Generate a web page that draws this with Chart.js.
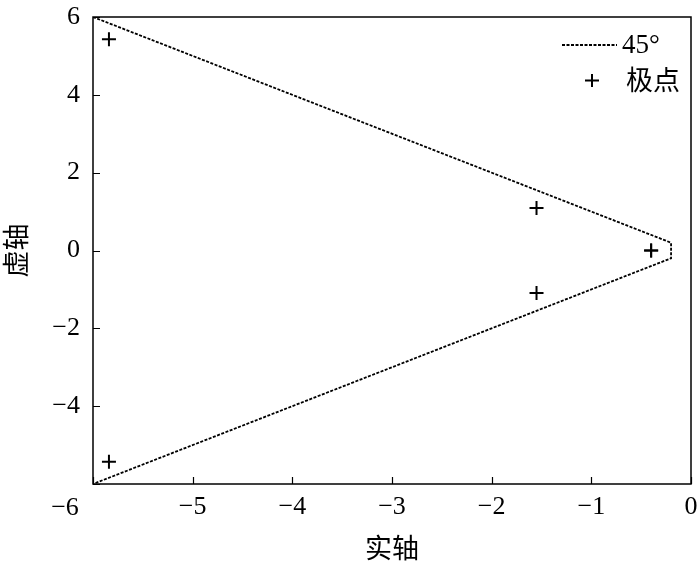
<!DOCTYPE html>
<html>
<head>
<meta charset="utf-8">
<script src="https://cdn.jsdelivr.net/npm/chart.js@4"></script>
<style>
    html, body { margin: 0; padding: 0; background: #fff; }
    #plot { display: block; width: 700px; height: 567px; }
</style>
</head>
<body>
<canvas id="plot" width="700" height="567"></canvas>
<script>
// 45° boundary (dotted)
const lineX = [-6, -0.2, -0.2, -6];
const lineY = [6, 0.2, -0.2, -6];

// closed-loop poles
const poleX = [-5.84, -5.84, -1.55, -1.55, -0.4, -0.4];
const poleY = [5.43, -5.43, 1.09, -1.09, 0, 0];

const xTicks = [-6, -5, -4, -3, -2, -1, 0];
const yTicks = [-6, -4, -2, 0, 2, 4, 6];

const legendLabels = ['45°', '极点'];
const xTitle = '实轴';
const yTitle = '虚轴';

const numFont = 'Liberation Serif';
const cjkFont = 'Noto Sans CJK SC';

function fmt(v) {
    return v < 0 ? '\u2212' + Math.abs(v) : String(v);
}

// box, inner ticks, merged corner label and legend
const framePlugin = {
    id: 'frame',
    afterDraw(chart) {
        const ctx = chart.ctx;
        const a = chart.chartArea;
        const xs = chart.scales.x;
        const ys = chart.scales.y;
        ctx.save();
        ctx.strokeStyle = '#000';
        ctx.lineWidth = 1.5;
        ctx.strokeRect(a.left, a.top, a.right - a.left, a.bottom - a.top);

        ctx.lineWidth = 1.2;
        ctx.beginPath();
        xTicks.forEach(v => {
            const px = Math.round(xs.getPixelForValue(v)) + 0.5;
            ctx.moveTo(px, a.bottom);
            ctx.lineTo(px, a.bottom - 7);
        });
        yTicks.forEach(v => {
            const py = Math.round(ys.getPixelForValue(v)) + 0.5;
            ctx.moveTo(a.left, py);
            ctx.lineTo(a.left + 7, py);
        });
        ctx.stroke();

        // shared corner label
        ctx.fillStyle = '#000';
        ctx.font = '26px "' + numFont + '"';
        ctx.textAlign = 'center';
        ctx.textBaseline = 'middle';
        ctx.fillText(fmt(-6), 65, 508);

        // legend
        ctx.setLineDash([3, 1.5]);
        ctx.lineWidth = 1.8;
        ctx.beginPath();
        ctx.moveTo(562, 45);
        ctx.lineTo(617, 45);
        ctx.stroke();
        ctx.setLineDash([]);
        ctx.textAlign = 'left';
        ctx.font = '27px "' + numFont + '"';
        ctx.fillText(legendLabels[0], 622, 46);

        ctx.lineWidth = 2;
        ctx.beginPath();
        ctx.moveTo(585, 80.5);
        ctx.lineTo(599, 80.5);
        ctx.moveTo(592, 74);
        ctx.lineTo(592, 87);
        ctx.stroke();
        ctx.font = '27px "' + cjkFont + '"';
        ctx.fillText(legendLabels[1], 626, 80);
        ctx.restore();
    }
};

function drawChart() {
    new Chart(document.getElementById('plot'), {
        type: 'scatter',
        data: {
            datasets: [
                {
                    label: legendLabels[0],
                    data: lineX.map((x, i) => ({ x: x, y: lineY[i] })),
                    showLine: true,
                    borderColor: '#000',
                    borderWidth: 1.8,
                    borderDash: [3, 1.5],
                    pointRadius: 0,
                    fill: false
                },
                {
                    label: legendLabels[1],
                    data: poleX.map((x, i) => ({ x: x, y: poleY[i] })),
                    pointStyle: 'cross',
                    pointRadius: 7,
                    borderColor: '#000',
                    borderWidth: 2
                }
            ]
        },
        options: {
            responsive: false,
            devicePixelRatio: 1,
            animation: false,
            layout: { padding: { top: 17, right: 8, left: 0, bottom: 0 } },
            plugins: {
                legend: { display: false },
                tooltip: { enabled: false }
            },
            scales: {
                x: {
                    type: 'linear',
                    min: -6,
                    max: 0,
                    afterBuildTicks: s => { s.ticks = xTicks.map(v => ({ value: v })); },
                    afterFit: s => {
                        s.height = 83;
                        s.paddingLeft = 0;
                        s.paddingRight = 0;
                    },
                    grid: { drawOnChartArea: false, drawTicks: false },
                    border: { display: false },
                    ticks: {
                        color: '#000',
                        padding: 8,
                        maxRotation: 0,
                        autoSkip: false,
                        font: { family: numFont, size: 26 },
                        callback: v => v === -6 ? '' : fmt(v)
                    },
                    title: {
                        display: true,
                        text: xTitle,
                        color: '#000',
                        font: { family: cjkFont, size: 27 },
                        padding: { top: 0, bottom: 3 }
                    }
                },
                y: {
                    type: 'linear',
                    min: -6,
                    max: 6,
                    afterBuildTicks: s => { s.ticks = yTicks.map(v => ({ value: v })); },
                    afterFit: s => {
                        s.width = 93;
                        s.paddingTop = 0;
                        s.paddingBottom = 0;
                    },
                    grid: { drawOnChartArea: false, drawTicks: false },
                    border: { display: false },
                    ticks: {
                        color: '#000',
                        padding: 13,
                        autoSkip: false,
                        font: { family: numFont, size: 26 },
                        callback: v => v === -6 ? '' : fmt(v)
                    },
                    title: {
                        display: true,
                        text: yTitle,
                        color: '#000',
                        font: { family: cjkFont, size: 27 },
                        padding: { top: 0, bottom: 0 }
                    }
                }
            }
        },
        plugins: [framePlugin]
    });
}

Promise.all([
    document.fonts.load('26px "' + numFont + '"', '−0123456789°'),
    document.fonts.load('27px "' + cjkFont + '"', '实轴虚极点')
]).then(drawChart, drawChart);
</script>
</body>
</html>
